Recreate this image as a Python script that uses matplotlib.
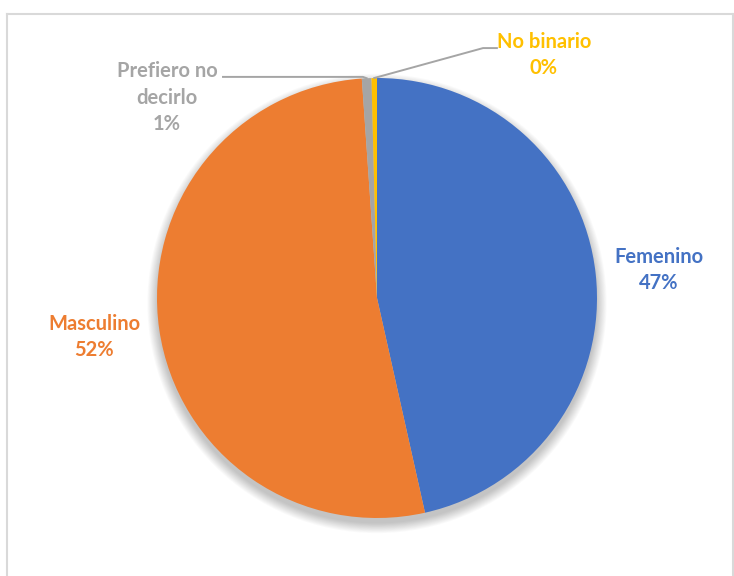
import matplotlib.pyplot as plt
from matplotlib.patches import Circle
from matplotlib.lines import Line2D
import numpy as np

categories = ["Femenino", "Masculino", "Prefiero no\ndecirlo", "No binario"]
shares = [46.5, 52.4, 0.7, 0.4]
pct_labels = ["47%", "52%", "1%", "0%"]
colors = ["#4472C4", "#ED7D31", "#A5A5A5", "#FFC000"]

W, H = 734, 576
fig = plt.figure(figsize=(W / 100, H / 100), dpi=100)

# pie centre and radius in pixels
cx, cy, r = 377, 298, 220
ax = fig.add_axes([(cx - r) / W, (H - cy - r) / H, 2 * r / W, 2 * r / H])

# soft shadow under the pie
for i in range(12):
    ax.add_patch(Circle((0, -0.025), 1.0 + 0.004 * i, color="black",
                        alpha=0.018, lw=0, zorder=0, clip_on=False))

wedges, _ = ax.pie(shares, colors=colors, startangle=90, counterclock=False,
                   radius=1, wedgeprops=dict(linewidth=0))
for w in wedges:
    w.set_zorder(2)

# pie() resets the limits, so fix them afterwards
ax.set_xlim(-1, 1)
ax.set_ylim(-1, 1)
ax.set_aspect("equal")
ax.axis("off")

# label positions (data units, pie radius = 1)
label_pos = [(1.282, 0.127), (-1.286, -0.177), (-0.955, 0.911), (0.759, 1.105)]
for cat, pct, col, (lx, ly) in zip(categories, pct_labels, colors, label_pos):
    ax.text(lx, ly, f"{cat}\n{pct}", color=col, fontsize=14.5, fontweight="bold",
            family=["Lato", "DejaVu Sans"], ha="center", va="center",
            linespacing=1.4, clip_on=False)


def edge_point(w):
    mid = np.deg2rad((w.theta1 + w.theta2) / 2)
    return np.cos(mid), np.sin(mid)


# leader lines
gx, gy = edge_point(wedges[2])
ax.plot([-0.70, -0.064, gx], [1.005, 1.005, gy], color="#A5A5A5", lw=1.4,
        clip_on=False, zorder=3)
yx, yy = edge_point(wedges[3])
ax.plot([yx, 0.482, 0.545], [yy, 1.136, 1.136], color="#A5A5A5", lw=1.4,
        clip_on=False, zorder=3)

# chart area frame
frame = dict(color="#D9D9D9", lw=1.5, transform=fig.transFigure)
x0, x1, y0 = 6.5 / W, 732.5 / W, 1 - 14 / H
fig.add_artist(Line2D([x0, x1], [y0, y0], **frame))
fig.add_artist(Line2D([x0, x0], [y0, 0], **frame))
fig.add_artist(Line2D([x1, x1], [y0, 0], **frame))

fig.savefig("out.png", dpi=100)
